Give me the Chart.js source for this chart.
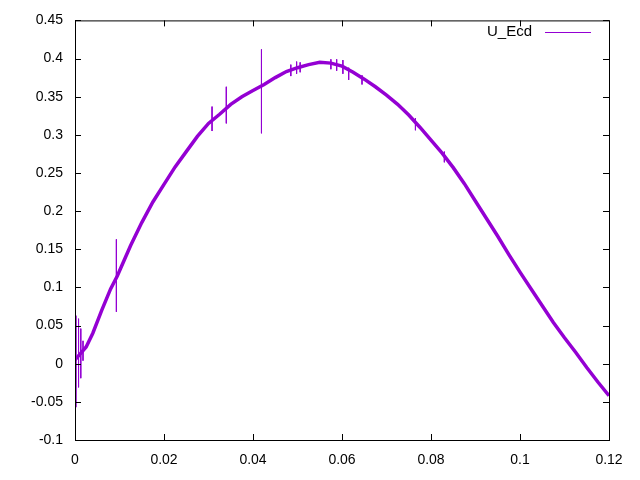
<!DOCTYPE html>
<html>
<head>
<meta charset="utf-8">
<script src="https://cdn.jsdelivr.net/npm/chart.js@4"></script>
<style>
  body { margin: 0; background: #fff; }
  #wrap { width: 640px; height: 480px; }
</style>
</head>
<body>
<div id="wrap"><canvas id="myChart" width="640" height="480"></canvas></div>
<script>
// main trace of U_Ecd
var curveX = [0, 0.0025, 0.004, 0.006, 0.008, 0.0095, 0.011, 0.0125, 0.015, 0.0175,
    0.02, 0.0225, 0.025, 0.0275, 0.03, 0.0325, 0.035, 0.0375, 0.04, 0.0425,
    0.045, 0.0475, 0.05, 0.0525, 0.055, 0.0575, 0.06, 0.0625, 0.065, 0.0675,
    0.07, 0.0725, 0.075, 0.0775, 0.08, 0.0825, 0.085, 0.0875, 0.09, 0.0925,
    0.095, 0.0975, 0.1, 0.1025, 0.105, 0.1075, 0.11, 0.1125, 0.115, 0.1175, 0.12];
var curveY = [0.005, 0.022, 0.04, 0.07, 0.098, 0.115, 0.135, 0.155, 0.185, 0.212,
    0.235, 0.258, 0.278, 0.298, 0.315, 0.327, 0.34, 0.35, 0.358, 0.366,
    0.375, 0.383, 0.388, 0.392, 0.395, 0.394, 0.39, 0.382, 0.373, 0.363,
    0.352, 0.34, 0.326, 0.31, 0.293, 0.276, 0.257, 0.236, 0.213, 0.19,
    0.167, 0.143, 0.12, 0.098, 0.076, 0.054, 0.034, 0.015, -0.005, -0.024, -0.042];

// spikes (pairs, null = break)
var spikeX = [0.0002, 0.0002, null, 0.0008, 0.0008, null, 0.0013, 0.0013, null, 0.0018, 0.0018, null,
    0.0093, 0.0093, null, 0.0308, 0.0308, null, 0.034, 0.034, null, 0.0419, 0.0419, null,
    0.0485, 0.0485, null, 0.0498, 0.0498, null, 0.0506, 0.0506, null,
    0.0575, 0.0575, null, 0.0588, 0.0588, null, 0.0602, 0.0602, null, 0.0615, 0.0615, null,
    0.0645, 0.0645, null, 0.0765, 0.0765, null, 0.083, 0.083];
var spikeY = [0.063, -0.057, null, 0.059, -0.031, null, 0.046, -0.019, null, 0.03, 0.004, null,
    0.163, 0.068, null, 0.337, 0.305, null, 0.363, 0.315, null, 0.412, 0.302, null,
    0.392, 0.377, null, 0.396, 0.38, null, 0.395, 0.382, null,
    0.399, 0.386, null, 0.399, 0.384, null, 0.398, 0.38, null, 0.388, 0.372, null,
    0.378, 0.366, null, 0.322, 0.306, null, 0.278, 0.264];

var xTicks = [0, 0.02, 0.04, 0.06, 0.08, 0.1, 0.12];
var yTicks = [-0.1, -0.05, 0, 0.05, 0.1, 0.15, 0.2, 0.25, 0.3, 0.35, 0.4, 0.45];
var seriesName = 'U_Ecd';
var lineColor = '#9400d3';

function pts(xs, ys) {
    var out = [];
    for (var i = 0; i < xs.length; i++) {
        out.push({ x: xs[i], y: ys[i] });
    }
    return out;
}

function fmt(v) {
    return String(parseFloat(v.toFixed(4)));
}

// gnuplot-ish frame: border, inward ticks on all sides, legend in the corner
var framePlugin = {
    id: 'frame',
    afterDraw: function (chart) {
        var ctx = chart.ctx;
        var a = chart.chartArea;
        var xs = chart.scales.x, ys = chart.scales.y;
        ctx.save();
        ctx.strokeStyle = '#000';
        ctx.lineWidth = 1;
        ctx.strokeRect(a.left + 0.5, a.top + 0.5, a.right - a.left, a.bottom - a.top);
        ctx.beginPath();
        xTicks.forEach(function (v) {
            var px = Math.round(xs.getPixelForValue(v)) + 0.5;
            ctx.moveTo(px, a.bottom); ctx.lineTo(px, a.bottom - 6);
            ctx.moveTo(px, a.top); ctx.lineTo(px, a.top + 6);
        });
        yTicks.forEach(function (v) {
            var py = Math.round(ys.getPixelForValue(v)) + 0.5;
            ctx.moveTo(a.left, py); ctx.lineTo(a.left + 6, py);
            ctx.moveTo(a.right, py); ctx.lineTo(a.right - 6, py);
        });
        ctx.stroke();

        ctx.fillStyle = '#000';
        ctx.font = '15px "Liberation Sans", Arial, sans-serif';
        ctx.textAlign = 'right';
        ctx.textBaseline = 'middle';
        ctx.fillText(seriesName, 532, 32);
        ctx.strokeStyle = lineColor;
        ctx.beginPath();
        ctx.moveTo(545, 32.5); ctx.lineTo(591, 32.5);
        ctx.stroke();
        ctx.restore();
    }
};

const ctx = document.getElementById('myChart').getContext('2d');
const myChart = new Chart(ctx, {
    type: 'line',
    data: {
        datasets: [{
            label: seriesName,
            data: pts(curveX, curveY),
            borderColor: lineColor,
            borderWidth: 3.5,
            pointRadius: 0,
            tension: 0
        }, {
            label: seriesName + ' spikes',
            data: pts(spikeX, spikeY),
            borderColor: lineColor,
            borderWidth: 1,
            pointRadius: 0,
            spanGaps: false
        }]
    },
    options: {
        responsive: false,
        animation: false,
        layout: { padding: { left: 0, top: 18, right: 31, bottom: 0 } },
        plugins: {
            legend: { display: false },
            tooltip: { enabled: false }
        },
        scales: {
            x: {
                type: 'linear',
                min: 0,
                max: 0.12,
                afterBuildTicks: function (s) { s.ticks = xTicks.map(function (v) { return { value: v }; }); },
                afterFit: function (s) { s.height = 40; },
                grid: { display: false, drawTicks: false },
                border: { display: false },
                ticks: {
                    color: '#000',
                    padding: 12,
                    maxRotation: 0,
                    font: { size: 14, family: '"Liberation Sans", Arial, sans-serif' },
                    callback: function (v) { return fmt(v); }
                }
            },
            y: {
                min: -0.1,
                max: 0.45,
                afterBuildTicks: function (s) { s.ticks = yTicks.map(function (v) { return { value: v }; }); },
                afterFit: function (s) { s.width = 75; },
                grid: { display: false, drawTicks: false },
                border: { display: false },
                ticks: {
                    color: '#000',
                    padding: 12,
                    font: { size: 14, family: '"Liberation Sans", Arial, sans-serif' },
                    callback: function (v) { return fmt(v); }
                }
            }
        }
    },
    plugins: [framePlugin]
});
</script>
</body>
</html>
